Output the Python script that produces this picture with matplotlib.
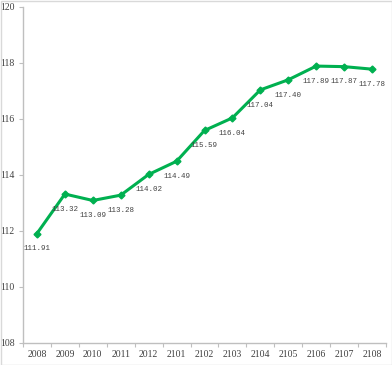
import matplotlib
matplotlib.use("Agg")
import matplotlib.pyplot as plt
from matplotlib.patches import Rectangle
import numpy as np

categories = ["2008", "2009", "2010", "2011", "2012", "2101", "2102",
              "2103", "2104", "2105", "2106", "2107", "2108"]
values = [111.91, 113.32, 113.09, 113.28, 114.02, 114.49, 115.59,
          116.04, 117.04, 117.40, 117.89, 117.87, 117.78]
yticks = [108, 110, 112, 114, 116, 118, 120]

fig = plt.figure(figsize=(3.92, 3.65), dpi=100)
ax = fig.add_axes([23/392, 22/365, 363/392, 336/365])

x = np.arange(len(categories))
green = "#00B050"
ax.plot(x, values, color=green, lw=2.2, marker="D", ms=3.5, mec=green, mfc=green, zorder=3)

for xi, v in zip(x, values):
    ax.annotate(f"{v:.2f}", (xi, v), xytext=(0, -8.5), textcoords="offset points",
                ha="center", va="top", fontsize=5.4, family="Liberation Mono", color="#404040")

ax.set_xlim(-0.5, len(categories) - 0.5)
ax.set_ylim(108, 120)
ax.set_yticks(yticks)
ax.set_yticklabels([str(t) for t in yticks], fontsize=7, family="Liberation Serif", color="#404040")
ax.set_xticks(np.arange(-0.5, len(categories), 1.0))
ax.set_xticklabels([])
ax.set_xticks(x, minor=True)
ax.set_xticklabels(categories, minor=True, fontsize=7, family="Liberation Serif", color="#404040")
ax.tick_params(axis="x", which="major", length=3, color="#BFBFBF", direction="out")
ax.tick_params(axis="x", which="minor", length=0, pad=5)
ax.tick_params(axis="y", length=3, color="#BFBFBF", direction="out", pad=3)

for s in ["top", "right"]:
    ax.spines[s].set_visible(False)
for s in ["left", "bottom"]:
    ax.spines[s].set_color("#BFBFBF")
    ax.spines[s].set_linewidth(1.0)

fig.patches.append(Rectangle((0.5/392, 0.5/365), 1 - 1/392, 1 - 1/365, transform=fig.transFigure,
                             fill=False, edgecolor="#D9D9D9", lw=1))

fig.savefig("out.png", dpi=100)
